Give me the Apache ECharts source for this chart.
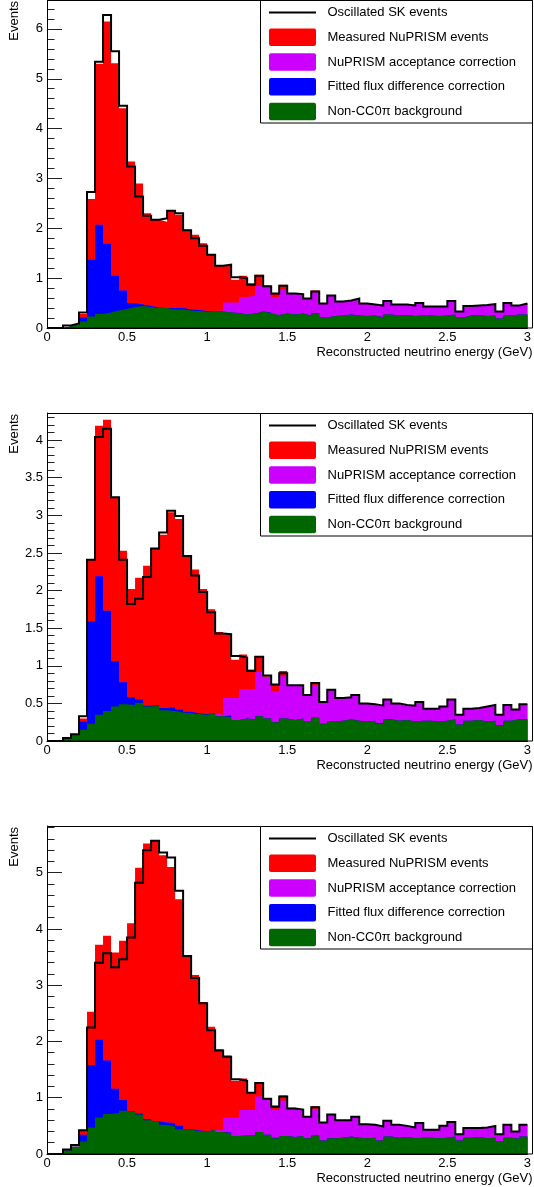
<!DOCTYPE html>
<html>
<head>
<meta charset="utf-8">
<script src="https://cdn.jsdelivr.net/npm/echarts@6/dist/echarts.min.js"></script>
<style>
  html, body { margin: 0; padding: 0; background: #fff; }
  #chart { width: 534px; height: 1187px; }
</style>
</head>
<body>
<div id="chart"></div>
<script>
// Binning of the reconstructed neutrino energy axis (GeV)
const binWidth = 0.05;
const xMin = 0;
const xMax = 3;
const xStep = 0.5;

const seriesNames = [
  'Oscillated SK events',
  'Measured NuPRISM events',
  'NuPRISM acceptance correction',
  'Fitted flux difference correction',
  'Non-CC0\u03c0 background'
];
const xTitle = 'Reconstructed neutrino energy (GeV)';
const yTitle = 'Events';

// ---- Panel 1 ----
const sk1 = [0,0,0.05,0.09,0.31,2.73,5.34,6.28,5.55,4.46, 3.24,2.64,2.25,2.17,2.2,2.35,2.3,1.96,1.8,1.65,
  1.47,1.25,1.27,1.02,1.0,0.87,1.05,0.84,0.69,0.85, 0.69,0.68,0.59,0.73,0.49,0.65,0.53,0.55,0.59,0.49,
  0.47,0.45,0.54,0.47,0.47,0.45,0.5,0.43,0.43,0.43, 0.54,0.33,0.44,0.45,0.46,0.48,0.33,0.5,0.45,0.49];
const bkg1 = [0,0,0.03,0.07,0.13,0.23,0.28,0.31,0.35,0.38, 0.42,0.44,0.42,0.4,0.4,0.37,0.37,0.35,0.34,0.33,
  0.34,0.33,0.31,0.3,0.27,0.29,0.33,0.3,0.26,0.29, 0.27,0.29,0.25,0.3,0.21,0.24,0.25,0.27,0.25,0.24,
  0.25,0.21,0.27,0.25,0.26,0.24,0.25,0.25,0.24,0.25, 0.27,0.21,0.25,0.26,0.24,0.25,0.19,0.25,0.27,0.27];
const flux1 = [0,0,0,0,0.08,1.14,1.79,1.38,0.7,0.37, 0.08,0.03,0.02,0.01,0,0.03,0.03,0.02,0.02,0.01,
  0,0,0,0,0,0,0,0.01,0,0, 0,0,0,0,0,0,0,0,0,0,
  0,0.01,0,0,0,0,0,0,0,0, 0,0,0,0,0,0,0,0,0,0];
const acc1 = [0,0,0,0,0,0,0,0,0,0, 0,0,0,0,0,0,0,0,0,0,
  0,0.02,0.2,0.21,0.35,0.36,0.52,0.52,0.36,0.48, 0.42,0.39,0.34,0.42,0.28,0.41,0.28,0.28,0.34,0.25,
  0.22,0.23,0.27,0.22,0.21,0.21,0.25,0.18,0.19,0.18, 0.27,0.12,0.19,0.19,0.22,0.23,0.14,0.25,0.18,0.22];
const meas1 = [0,0,0,0,0.07,1.22,3.23,4.46,4.26,3.66, 2.84,2.43,1.86,1.76,1.73,1.96,1.87,1.6,1.51,1.36,
  1.13,0.9,0.77,0.46,0.43,0.25,0.22,0.02,0.08,0.1, 0,0,0,0.03,0,0,0,0,0,0,
  0,0,0,0,0,0,0,0,0,0, 0,0,0,0,0,0,0,0,0,0];

// ---- Panel 2 ----
const sk2 = [0,0,0.04,0.09,0.33,2.41,4.04,4.15,3.24,2.41, 1.82,1.89,2.18,2.56,2.77,3.06,2.99,2.46,2.2,1.98,
  1.71,1.43,1.42,1.13,1.11,0.93,1.12,0.87,0.75,0.9, 0.74,0.74,0.61,0.77,0.52,0.68,0.57,0.58,0.61,0.5,
  0.49,0.47,0.55,0.5,0.48,0.47,0.52,0.43,0.43,0.46, 0.55,0.35,0.43,0.44,0.46,0.48,0.35,0.48,0.42,0.49];
const bkg2 = [0,0,0.03,0.08,0.15,0.23,0.35,0.4,0.46,0.49, 0.48,0.51,0.46,0.47,0.41,0.4,0.38,0.37,0.36,0.35,
  0.37,0.33,0.32,0.28,0.3,0.29,0.33,0.3,0.25,0.3, 0.28,0.3,0.26,0.31,0.23,0.26,0.27,0.29,0.27,0.26,
  0.27,0.23,0.29,0.27,0.28,0.26,0.27,0.27,0.26,0.27, 0.29,0.22,0.27,0.28,0.26,0.27,0.21,0.27,0.29,0.29];
const flux2 = [0,0,0,0,0.11,1.36,1.84,1.33,0.6,0.29, 0.1,0.04,0.01,0.01,0.03,0.05,0.04,0.02,0.01,0.01,
  0,0,0.02,0,0,0,0,0,0,0, 0,0,0,0,0,0,0,0,0,0,
  0,0.01,0,0,0,0,0,0,0,0, 0,0,0,0,0,0,0,0,0,0];
const acc2 = [0,0,0,0,0,0,0,0,0,0, 0,0,0,0,0,0,0,0,0,0,
  0,0.02,0.23,0.29,0.39,0.4,0.59,0.55,0.41,0.56, 0.46,0.44,0.35,0.43,0.29,0.42,0.3,0.29,0.34,0.24,
  0.22,0.23,0.26,0.23,0.2,0.21,0.25,0.16,0.17,0.19, 0.26,0.13,0.16,0.16,0.2,0.21,0.14,0.21,0.13,0.2];
const meas2 = [0,0,0,0,0.04,0.82,2.0,2.54,2.18,1.75, 1.44,1.62,1.86,2.08,2.3,2.59,2.53,2.07,1.91,1.66,
  1.38,1.1,0.85,0.51,0.46,0.26,0.21,0.01,0.09,0.07, 0,0,0,0.03,0,0,0,0,0,0,
  0,0,0,0,0,0,0,0,0,0, 0,0,0,0,0,0,0,0,0,0];

// ---- Panel 3 ----
const sk3 = [0,0,0.08,0.16,0.42,2.25,3.4,3.57,3.32,3.46, 3.85,4.82,5.4,5.57,5.36,5.27,4.68,3.52,3.13,2.68,
  2.2,1.84,1.73,1.33,1.3,1.09,1.26,0.98,0.84,1.02, 0.81,0.79,0.66,0.83,0.56,0.7,0.6,0.6,0.66,0.53,
  0.52,0.49,0.59,0.52,0.5,0.47,0.55,0.43,0.43,0.5, 0.57,0.35,0.46,0.46,0.47,0.5,0.35,0.52,0.4,0.52];
const bkg3 = [0,0,0.06,0.13,0.22,0.47,0.65,0.71,0.73,0.77, 0.74,0.7,0.6,0.57,0.52,0.49,0.44,0.43,0.41,0.4,
  0.43,0.39,0.37,0.32,0.33,0.33,0.39,0.34,0.28,0.32, 0.3,0.32,0.28,0.33,0.24,0.28,0.29,0.31,0.29,0.28,
  0.29,0.24,0.31,0.29,0.3,0.28,0.29,0.29,0.28,0.29, 0.31,0.24,0.29,0.3,0.28,0.29,0.22,0.29,0.27,0.31];
const flux3 = [0,0,0,0,0.12,1.11,1.38,0.95,0.43,0.19, 0.02,0.02,0.02,0.01,0.04,0.06,0.06,0.01,0.01,0,
  0,0,0.01,0,0,0,0,0,0.01,0, 0,0,0,0,0,0,0,0,0,0,
  0,0,0,0,0,0,0,0,0,0, 0,0,0,0,0,0,0,0,0,0];
const acc3 = [0,0,0,0,0,0,0,0,0,0, 0,0,0,0,0,0,0,0,0,0,
  0,0.03,0.27,0.33,0.45,0.45,0.63,0.62,0.49,0.63, 0.51,0.47,0.38,0.47,0.32,0.42,0.31,0.29,0.37,0.25,
  0.23,0.25,0.28,0.23,0.2,0.19,0.26,0.14,0.15,0.21, 0.26,0.11,0.17,0.16,0.19,0.21,0.13,0.23,0.13,0.21];
const meas3 = [0,0,0,0,0.07,0.95,1.69,2.22,2.42,2.83, 3.34,4.37,4.9,5.0,4.75,4.55,4.03,3.08,2.76,2.3,
  1.83,1.44,1.1,0.65,0.56,0.32,0.25,0.02,0.08,0.09, 0.01,0,0,0.05,0,0,0,0,0,0,
  0,0,0,0,0,0,0,0,0,0, 0,0,0,0,0,0,0,0,0,0];

// Vertical axis ranges of the three pads
const yMaxes = [6.58, 4.36, 5.83];
const ySteps = [1, 0.5, 1];

// ---------------- drawing ----------------
const FONT = "'Liberation Sans', Arial, Helvetica, sans-serif";
const COLORS = { sk: '#000000', meas: '#ff0000', acc: '#cc00ff', flux: '#0000ff', bkg: '#006600' };
const PAD_LEFT = 47, PAD_WIDTH = 486, PAD_HEIGHT = 328;
const padTops = [0, 413, 826];

const panels = [
  { sk: sk1, meas: meas1, acc: acc1, flux: flux1, bkg: bkg1 },
  { sk: sk2, meas: meas2, acc: acc2, flux: flux2, bkg: bkg2 },
  { sk: sk3, meas: meas3, acc: acc3, flux: flux3, bkg: bkg3 }
];

// histogram contents -> step points at the bin low edges (plus the closing edge)
function toSteps(vals) {
  const pts = vals.map((v, i) => [+(xMin + i * binWidth).toFixed(3), v]);
  pts.push([xMax, vals[vals.length - 1]]);
  return pts;
}

// running sum of several histograms, bin by bin (stack heights)
function stackUp(list) {
  return list[0].map((_, i) => list.reduce((s, h) => s + h[i], 0));
}

function fmtTick(step) {
  return function (v) {
    const r = v / step;
    if (Math.abs(r - Math.round(r)) > 1e-6) return '';
    return String(+v.toFixed(2));
  };
}

const grids = [], xAxes = [], yAxes = [], series = [], graphics = [];

panels.forEach((p, k) => {
  const top = padTops[k];
  grids.push({ left: PAD_LEFT, top: top, width: PAD_WIDTH, height: PAD_HEIGHT, containLabel: false });

  xAxes.push({
    gridIndex: k, type: 'value', min: xMin, max: xMax, interval: xStep,
    axisLine: { show: true, lineStyle: { color: '#000', width: 1 } },
    axisTick: { show: false },
    splitLine: { show: false },
    axisLabel: { color: '#000', fontSize: 13, fontFamily: FONT, margin: 3, formatter: fmtTick(xStep) }
  });

  yAxes.push({
    gridIndex: k, type: 'value', min: 0, max: yMaxes[k], interval: ySteps[k],
    axisLine: { show: true, lineStyle: { color: '#000', width: 1 } },
    axisTick: { show: true, inside: true, length: 15, lineStyle: { color: '#222', width: 1 } },
    minorTick: { show: true, splitNumber: 5, length: 7.5, lineStyle: { color: '#222', width: 1 } },
    splitLine: { show: false },
    minorSplitLine: { show: false },
    axisLabel: { color: '#000', fontSize: 13, fontFamily: FONT, margin: 4, formatter: fmtTick(ySteps[k]) }
  });

  // THStack-like drawing: each layer is filled from zero up to its running
  // total; the tallest total is painted first so lower layers sit on top.
  const layers = [
    ['meas', seriesNames[1], stackUp([p.bkg, p.flux, p.acc, p.meas])],
    ['acc',  seriesNames[2], stackUp([p.bkg, p.flux, p.acc])],
    ['flux', seriesNames[3], stackUp([p.bkg, p.flux])],
    ['bkg',  seriesNames[4], stackUp([p.bkg])]
  ];
  layers.forEach(([key, name, heights]) => {
    series.push({
      name: name, type: 'line', xAxisIndex: k, yAxisIndex: k,
      step: 'end', symbol: 'none', silent: true,
      lineStyle: { width: 0, opacity: 0 },
      areaStyle: { color: COLORS[key], opacity: 1, origin: 'start' },
      itemStyle: { color: COLORS[key] },
      data: toSteps(heights),
      z: 2
    });
  });

  // SK prediction outline
  series.push({
    name: seriesNames[0], type: 'line', xAxisIndex: k, yAxisIndex: k,
    step: 'end', symbol: 'none', silent: true, clip: false,
    lineStyle: { color: COLORS.sk, width: 2, join: 'miter', cap: 'butt' },
    data: toSteps(p.sk),
    z: 3
  });

  // pad frame
  graphics.push({
    type: 'rect', z: 50, silent: true,
    shape: { x: PAD_LEFT + 0.5, y: top + 0.5, width: PAD_WIDTH - 1, height: PAD_HEIGHT - 0.5 },
    style: { fill: null, stroke: '#000', lineWidth: 1 }
  });

  // legend box
  const lx = 260.5, lw = 272, lh = 122.5;
  graphics.push({
    type: 'rect', z: 60, silent: true,
    shape: { x: lx, y: top + 0.5, width: lw, height: lh },
    style: { fill: '#fff', stroke: '#000', lineWidth: 1 }
  });
  const rowY = [12.5, 37.3, 62, 86.7, 111.4];
  const legendKeys = ['sk', 'meas', 'acc', 'flux', 'bkg'];
  legendKeys.forEach((key, j) => {
    const cy = top + rowY[j];
    if (key === 'sk') {
      graphics.push({
        type: 'line', z: 61, silent: true,
        shape: { x1: 269, y1: cy, x2: 316, y2: cy },
        style: { stroke: '#000', lineWidth: 2 }
      });
    } else {
      graphics.push({
        type: 'rect', z: 61, silent: true,
        shape: { x: 269, y: cy - 8.75, width: 47, height: 17.5, r: 2 },
        style: { fill: COLORS[key] }
      });
    }
    graphics.push({
      type: 'text', z: 61, silent: true, x: 327.5, y: cy,
      style: { text: seriesNames[j], fill: '#000', fontSize: 13, fontFamily: FONT, align: 'left', verticalAlign: 'middle' }
    });
  });

  // axis titles
  graphics.push({
    type: 'text', z: 61, silent: true, x: 532.5, y: top + 352,
    style: { text: xTitle, fill: '#000', fontSize: 13, fontFamily: FONT, align: 'right', verticalAlign: 'middle' }
  });
  graphics.push({
    type: 'text', z: 61, silent: true, x: 14, y: top + 1, rotation: Math.PI / 2,
    style: { text: yTitle, fill: '#000', fontSize: 13, fontFamily: FONT, align: 'right', verticalAlign: 'middle' }
  });
});

const chart = echarts.init(document.getElementById('chart'), null, { renderer: 'canvas' });
chart.setOption({
  animation: false,
  backgroundColor: '#fff',
  grid: grids,
  xAxis: xAxes,
  yAxis: yAxes,
  series: series,
  graphic: graphics
});
</script>
</body>
</html>
